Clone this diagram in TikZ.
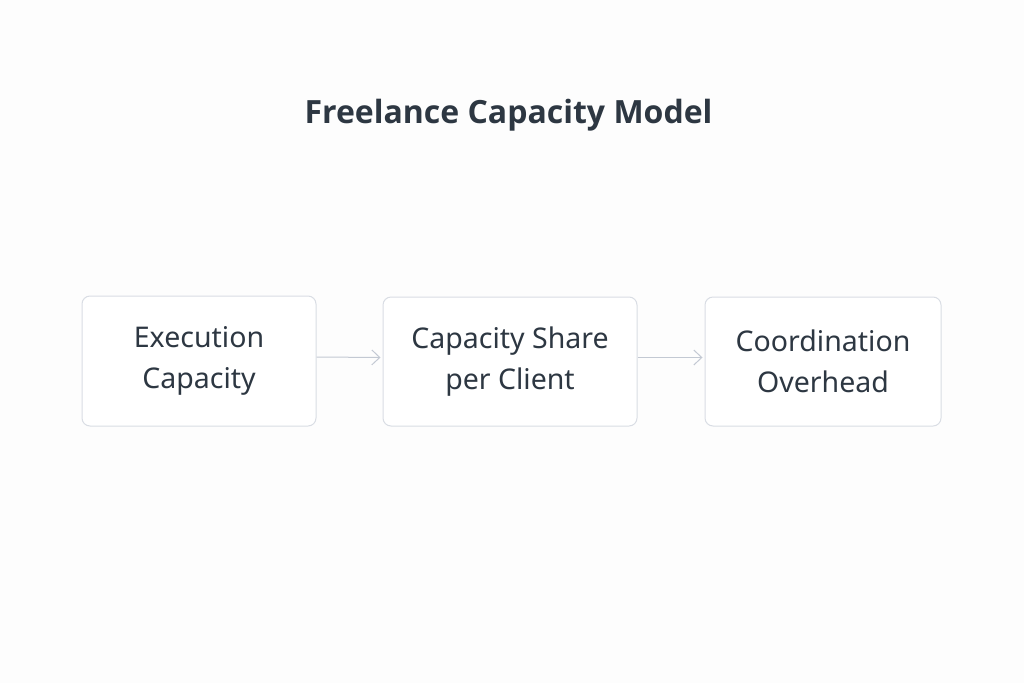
\documentclass[tikz,border=0pt]{standalone}
\usepackage{fontspec}
\setmainfont{Noto Sans}
\newfontfamily\titlefont{Open Sans}
\usetikzlibrary{arrows.meta}
\definecolor{ink}{HTML}{2D3742}
\definecolor{boxline}{HTML}{D9DDE4}
\definecolor{arrowline}{HTML}{C3C9D3}
\definecolor{bg}{HTML}{FDFDFD}
\tikzset{
  stagebox/.style={draw=boxline, line width=1pt, fill=white, rounded corners=8pt,
    align=center, text=ink, font=\fontsize{28.5}{41}\selectfont, inner sep=0pt},
  flowarrow/.style={draw=arrowline, line width=1pt, -{Straight Barb[length=8pt,width=15pt]}, shorten >=2pt},
}
\begin{document}
\begin{tikzpicture}[x=1pt,y=-1pt]
\fill[bg] (0,0) rectangle (1024,683);
\useasboundingbox (0,0) rectangle (1024,683);
\node[text=ink, font=\titlefont\fontsize{32}{38}\selectfont\bfseries] (title) at (508.5,115) {Freelance Capacity Model};
\node[stagebox, minimum width=234pt, minimum height=130pt] (b1) at (199,361) {Execution\\Capacity};
\node[stagebox, minimum width=254pt, minimum height=129pt] (b2) at (510,361.5) {Capacity Share\\per Client};
\node[stagebox, minimum width=236pt, minimum height=129pt] (b3) at (823,361.5) {Coordination\\Overhead};
\draw[flowarrow] ([yshift=4pt]b1.east) -- ([yshift=4pt]b2.west);
\draw[flowarrow] ([yshift=4pt]b2.east) -- ([yshift=4pt]b3.west);
\end{tikzpicture}
\end{document}
